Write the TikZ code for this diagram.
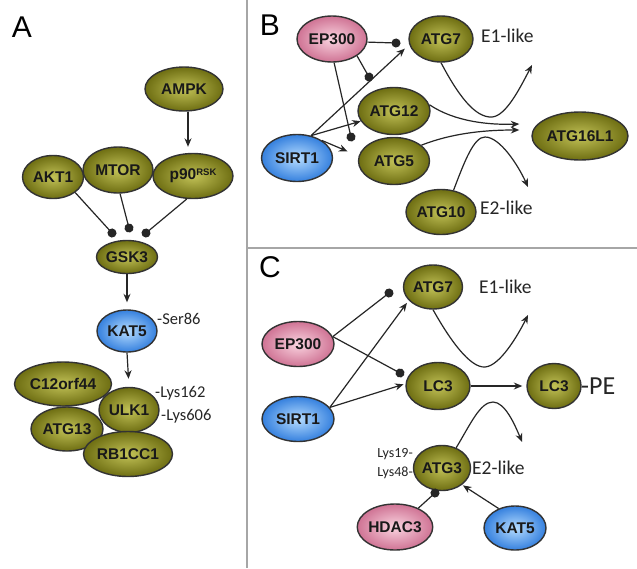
\documentclass[tikz,border=0pt]{standalone}
\usepackage{fontspec}
\setmainfont{Liberation Sans}
\newfontfamily\calib{Carlito}
\usetikzlibrary{shapes.geometric,arrows.meta}
\definecolor{oliveIn}{HTML}{C2C257}
\definecolor{oliveOut}{HTML}{6E6E12}
\definecolor{pinkIn}{HTML}{FAD4E0}
\definecolor{pinkOut}{HTML}{CF7394}
\definecolor{blueIn}{HTML}{B5DCFF}
\definecolor{blueOut}{HTML}{3580DE}
\definecolor{divgray}{HTML}{A6A6A6}
\newcommand{\nodefnt}{\fontsize{15.5}{17}\selectfont\bfseries}
\begin{document}
\begin{tikzpicture}[x=1pt,y=-1pt,
  mol/.style={ellipse, draw=black!80, line width=1.4pt, inner sep=0pt, font=\nodefnt, text=black!90},
  olv/.style={mol, inner color=oliveIn, outer color=oliveOut},
  pnk/.style={mol, inner color=pinkIn, outer color=pinkOut},
  blu/.style={mol, inner color=blueIn, outer color=blueOut},
  sz/.style 2 args={minimum width=#1pt, minimum height=#2pt},
  panel/.style={font=\fontsize{30}{32}\selectfont, inner sep=0pt},
  lblA/.style={font=\calib\fontsize{16.5}{18}\selectfont, inner sep=0pt, text=black!85},
  lblB/.style={font=\calib\fontsize{19.5}{21}\selectfont, inner sep=0pt, text=black!85},
  lblS/.style={font=\calib\fontsize{14}{16}\selectfont, inner sep=0pt, text=black!85},
  con/.style={line width=1.2pt, draw=black!85},
  act/.style={con, -{Stealth[length=8.5pt,width=7pt]}},
  inh/.style={con, -{Circle[length=9pt]}, shorten >=-4.5pt},
]
\useasboundingbox (0,0) rectangle (637,568);
\fill[white] (0,0) rectangle (637,568);
\draw[divgray, line width=1.5pt] (247,0) -- (247,568);
\draw[divgray, line width=1.5pt] (247,248) -- (637,248);

% ---------- Panel A ----------
\node[panel] (la) at (22,27) {A};
\node[olv, sz={78}{44}] (ampk) at (184,89) {AMPK};
\node[olv, sz={61}{43}] (akt) at (53,177) {AKT1};
\node[olv, sz={70}{46}] (mtor) at (118,170) {MTOR};
\node[olv, sz={80}{45}] (p90) at (193,176) {p90\raisebox{4.5pt}{\fontsize{9.5}{9.5}\selectfont RSK}};
\node[olv, sz={61}{33}] (gsk) at (127,257) {GSK3};
\node[blu, sz={60}{42}] (kat) at (127,331) {KAT5};
\node[olv, sz={97}{44}] (c12) at (63,384) {C12orf44};
\node[olv, sz={72}{44}] (atg13) at (67,429) {ATG13};
\node[olv, sz={60}{45}] (ulk) at (129,410) {ULK1};
\node[olv, sz={89}{45}] (rb) at (128,454) {RB1CC1};

\coordinate (d1) at (112,233);
\coordinate (d2) at (129,228);
\coordinate (d3) at (146,233);
\draw[inh] (akt.-35) -- (d1);
\draw[inh] (mtor.-85) -- (d2);
\draw[inh] (p90.-105) -- (d3);
\coordinate (ampkout) at ([xshift=4pt]ampk.south);
\draw[act, shorten >=6pt] (ampkout) -- (ampkout |- p90.north);
\draw[act, shorten >=7pt] (gsk.south) -- (kat.north);
\draw[act, shorten >=8pt] (kat.south) -- (ulk.north);

\node[lblA, anchor=west] (ser) at (157,319) {-Ser86};
\node[lblA, anchor=west] (l162) at (155,393) {-Lys162};
\node[lblA, anchor=west] (l606) at (161,416) {-Lys606};

% ---------- Panel B ----------
\node[panel] (lb) at (270,25) {B};
\node[pnk, sz={70}{46}] (bep) at (332,39) {EP300};
\node[olv, sz={64}{46}] (b7) at (441,39) {ATG7};
\node[olv, sz={72}{47}] (b12) at (394,111) {ATG12};
\node[blu, sz={71}{47}] (bs) at (297,158) {SIRT1};
\node[olv, sz={71}{47}] (b5) at (394,161) {ATG5};
\node[olv, sz={96}{48}] (b16) at (580,136) {ATG16L1};
\node[olv, sz={70}{45}] (b10) at (441,212) {ATG10};
\node[lblB, anchor=west] (be1) at (481,36) {E1-like};
\node[lblB, anchor=west] (be2) at (480,208) {E2-like};

\coordinate (bd1) at (396,43);
\coordinate (bd2) at (369,77);
\coordinate (bd3) at (351,137);
\draw[act, shorten >=6pt] (bs.58) -- (b7.190);
\draw[act] (bs.58) -- (b12.197);
\draw[act, shorten >=12pt] (bs.35) -- (b5.172);
\draw[inh] (bep.-5) -- (bd1);
\draw[inh] (bep.-34) -- (bd2);
\draw[inh] (bep.-85) -- (bd3);
\draw[act] (b7.south) .. controls (458,95) and (475,118) .. (492,117)
  .. controls (506,116) and (520,88) .. (532,65);
\draw[act] (b10.60) .. controls (465,160) and (474,137) .. (485,137)
  .. controls (500,137) and (518,165) .. (528,187);
\coordinate (t12) at ([xshift=-12pt,yshift=12pt]b16.west);
\coordinate (t5) at ([xshift=-12pt,yshift=6pt]b16.west);
\draw[act] (b12.10) .. controls (455,122) and (490,125) .. (t12);
\draw[act] (b5.30) .. controls (455,132) and (490,130) .. (t5);

% ---------- Panel C ----------
\node[panel] (lc) at (270,267) {C};
\node[olv, sz={59}{44}] (c7) at (433,287) {ATG7};
\node[pnk, sz={72}{45}] (cep) at (298,344) {EP300};
\node[blu, sz={72}{45}] (cs) at (298,419) {SIRT1};
\node[olv, sz={64}{47}] (cl) at (438,386) {LC3};
\node[olv, sz={54}{45}] (cl2) at (554,386) {LC3};
\node[olv, sz={57}{45}] (c3) at (442,468) {ATG3};
\node[pnk, sz={62}{46}] (ch) at (395,527) {HDAC3};
\node[blu, sz={62}{44}] (ck) at (515,528) {KAT5};
\node[lblB, anchor=west] (ce1) at (479,287) {E1-like};
\node[lblB, anchor=west] (ce2) at (472,468) {E2-like};
\node[font=\calib\fontsize{26}{28}\selectfont, inner sep=0pt, text=black!85, anchor=west] (pe) at (581,386) {-PE};
\node[lblS, anchor=east] (l19) at (413,454) {Lys19-};
\node[lblS, anchor=east] (l48) at (413,473) {Lys48-};

\coordinate (cd1) at (389,293);
\coordinate (cd2) at (400,373);
\coordinate (cd3) at (435,493);
\draw[inh] (cep.12) -- (cd1);
\draw[inh] (cep.12) -- (cd2);
\draw[act, shorten >=3pt] (cs.20) -- (c7.209);
\draw[act, shorten >=2pt] (cs.20) -- (cl.176);
\draw[act, shorten >=4pt] (cl.east) -- (cl2.west);
\draw[act] (c7.south) .. controls (450,340) and (470,368) .. (485,367)
  .. controls (500,366) and (518,335) .. (528,315);
\draw[act] (c3.55) .. controls (470,425) and (480,402) .. (493,402)
  .. controls (505,402) and (515,425) .. (522,442);
\draw[inh] (ch.39) -- (cd3);
\draw[act, shorten >=1pt] (ck.130) -- (c3.-40);
\end{tikzpicture}
\end{document}
